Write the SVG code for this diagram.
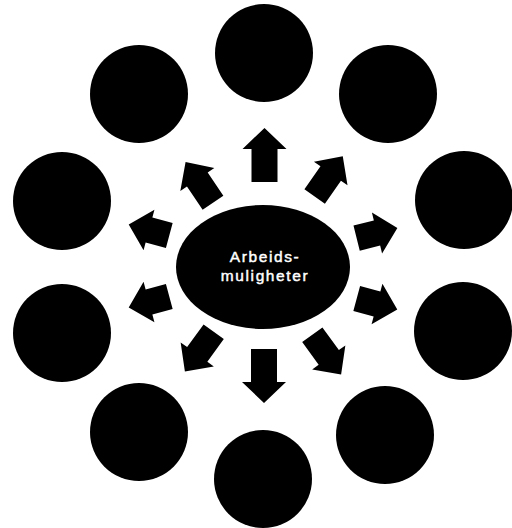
<svg xmlns="http://www.w3.org/2000/svg" xmlns:xlink="http://www.w3.org/1999/xlink" width="512" height="528" viewBox="0 0 512 528">
  <style>
    .node { fill: #000; }
    .arrow { fill: #000; }
    .label { fill: #fff; stroke: #fff; stroke-width: 0.45px; font-family: "Liberation Sans", Arial, sans-serif; font-size: 15.5px; letter-spacing: 1.6px; text-anchor: middle; }
  </style>
  <defs>
    <path id="arr" d="M-27,-13 H6 V-22 L27,0 L6,22 V13 H-27 Z"/>
    <path id="arrD" d="M-25,-12.5 H3 V-20.5 L24,0 L3,20.5 V12.5 H-25 Z"/>
    <path id="arrS" d="M-21,-13 H0 V-21 L21,0 L0,21 V13 H-21 Z"/>
  </defs>
  <rect width="512" height="528" fill="#fff"/>
  <g id="center">
    <ellipse class="node" cx="263" cy="267" rx="87" ry="62"/>
    <text class="label" x="265" y="262">Arbeids-</text>
    <text class="label" x="265" y="281">muligheter</text>
  </g>
  <g id="n1"><circle class="node" cx="264" cy="53" r="49"/></g>
  <g id="n2"><circle class="node" cx="388" cy="94" r="49"/></g>
  <g id="n3"><circle class="node" cx="464" cy="200" r="49"/></g>
  <g id="n4"><circle class="node" cx="463" cy="331" r="49"/></g>
  <g id="n5"><circle class="node" cx="385" cy="435" r="49"/></g>
  <g id="n6"><circle class="node" cx="263" cy="479" r="49"/></g>
  <g id="n7"><circle class="node" cx="139" cy="432" r="49"/></g>
  <g id="n8"><circle class="node" cx="62" cy="333" r="49"/></g>
  <g id="n9"><circle class="node" cx="62" cy="201" r="49"/></g>
  <g id="n10"><circle class="node" cx="139" cy="94" r="49"/></g>
  <g id="connectors" class="arrow">
    <use xlink:href="#arr" transform="translate(264.5,155) rotate(-90)"/>
    <use xlink:href="#arrD" transform="translate(329,176) rotate(-55)"/>
    <use xlink:href="#arrS" transform="translate(377,233) rotate(-14)"/>
    <use xlink:href="#arrS" transform="translate(377,304) rotate(15)"/>
    <use xlink:href="#arrD" transform="translate(327,355) rotate(54)"/>
    <use xlink:href="#arr" transform="translate(264,376) rotate(90)"/>
    <use xlink:href="#arrD" transform="translate(199,352) rotate(126)"/>
    <use xlink:href="#arrS" transform="translate(149,302) rotate(165)"/>
    <use xlink:href="#arrS" transform="translate(149,230) rotate(-165)"/>
    <use xlink:href="#arrD" transform="translate(199,182) rotate(-124)"/>
  </g>
</svg>
